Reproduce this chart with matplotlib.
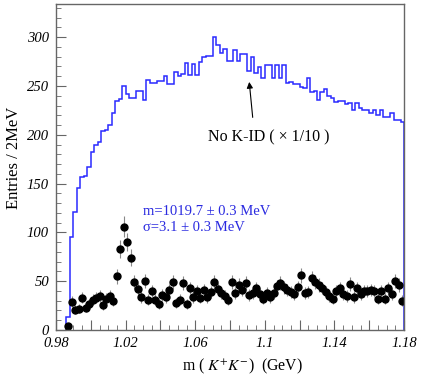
import numpy as np
import matplotlib.pyplot as plt
from matplotlib.ticker import MultipleLocator, FuncFormatter

plt.rcParams['font.family'] = ['Liberation Serif', 'DejaVu Serif']
plt.rcParams['mathtext.fontset'] = 'stix'

# 2 MeV bins from 0.98 GeV; first filled bin is index 3 (K+K- threshold)
first_bin = 3
n_bins = 100

# no K-ID histogram, already scaled by 1/10
no_kid = [13, 95, 121, 145, 157, 158, 167, 182, 190, 193,
          204, 205, 210, 222, 235, 237, 250, 242, 238, 238,
          245, 245, 236, 256, 253, 253, 255, 255, 260, 252,
          252, 264, 260, 262, 274, 261, 273, 261, 275, 280,
          281, 281, 300, 292, 284, 288, 276, 276, 287, 276,
          283, 283, 265, 280, 263, 269, 258, 272, 271, 258,
          271, 258, 271, 253, 254, 252, 252, 249, 248, 258,
          244, 245, 236, 244, 247, 240, 238, 234, 235, 235,
          232, 233, 225, 233, 227, 225, 225, 222, 225, 220,
          225, 218, 218, 222, 215, 215, 213]

# K+K- with K-ID
kk_counts = [4, 29, 21, 22, 33, 23, 27, 31, 33, 35,
             26, 32, 35, 30, 55, 83, 106, 90, 74, 49,
             42, 34, 50, 31, 40, 31, 27, 36, 34, 41,
             49, 28, 31, 48, 27, 43, 34, 40, 33, 41,
             34, 39, 49, 42, 38, 35, 31, 49, 38, 46,
             41, 48, 36, 38, 43, 37, 32, 38, 34, 38,
             45, 48, 44, 41, 39, 37, 44, 56, 38, 39,
             53, 49, 46, 43, 39, 35, 32, 40, 43, 37,
             35, 47, 34, 43, 37, 40, 40, 41, 40, 32,
             40, 32, 43, 37, 50, 46, 30]

x_labels = ['0.98', '1.02', '1.06', '1.1', '1.14', '1.18']

edges = 0.98 + 0.002 * np.arange(first_bin, n_bins + 1)
centers = 0.5 * (edges[:-1] + edges[1:])
kk = np.array(kk_counts, dtype=float)

fig = plt.figure(figsize=(4.36, 3.82), dpi=100)
ax = fig.add_axes([56/436, 52/382, 348/436, 326/382])

ax.stairs(no_kid, edges, baseline=0, color='#2a2aff', lw=1.1)
ax.errorbar(centers, kk, yerr=np.sqrt(kk), fmt='o', color='black',
            ms=5, ecolor='#888888', elinewidth=0.8, capsize=0)

ax.set_xlim(0.98, 1.18)
ax.set_ylim(0, 334)

ax.xaxis.set_major_locator(MultipleLocator(0.02))
ax.xaxis.set_minor_locator(MultipleLocator(0.005))
lab = {round(0.98 + 0.04*i, 3): s for i, s in enumerate(x_labels)}
ax.xaxis.set_major_formatter(FuncFormatter(lambda v, p: lab.get(round(v, 3), '')))
ax.yaxis.set_major_locator(MultipleLocator(50))
ax.yaxis.set_minor_locator(MultipleLocator(10))

ax.tick_params(which='both', direction='in', color='#666666', top=False, right=False)
ax.tick_params(which='major', length=7, labelsize=10.5, pad=5)
ax.tick_params(which='minor', length=3.5)
for t in ax.get_xticklabels() + ax.get_yticklabels():
    t.set_fontstyle('italic')
for s in ax.spines.values():
    s.set_color('#666666')
    s.set_linewidth(1.0)

ax.annotate('', xy=(1.0909, 257), xytext=(1.0932, 215),
            arrowprops=dict(arrowstyle='-|>', color='black', lw=0.8, mutation_scale=9))
ax.text(1.0674, 197.5, 'No K-ID ( × 1/10 )', va='center', fontsize=11.5)
ax.text(1.03, 121.8, 'm=1019.7 ± 0.3 MeV', va='center', color='#2a2ae0', fontsize=10.5)
ax.text(1.03, 105.4, 'σ=3.1 ± 0.3 MeV', va='center', color='#2a2ae0', fontsize=10.5)

fig.text(242/436, 1 - 366/382, r'm ( $K^{+}K^{-}$)  (GeV)', ha='center', va='center', fontsize=11.3)
fig.text(14/436, 1 - 158/382, 'Entries / 2MeV', rotation=90, ha='center', va='center', fontsize=12)

fig.savefig('out.png', dpi=100)
